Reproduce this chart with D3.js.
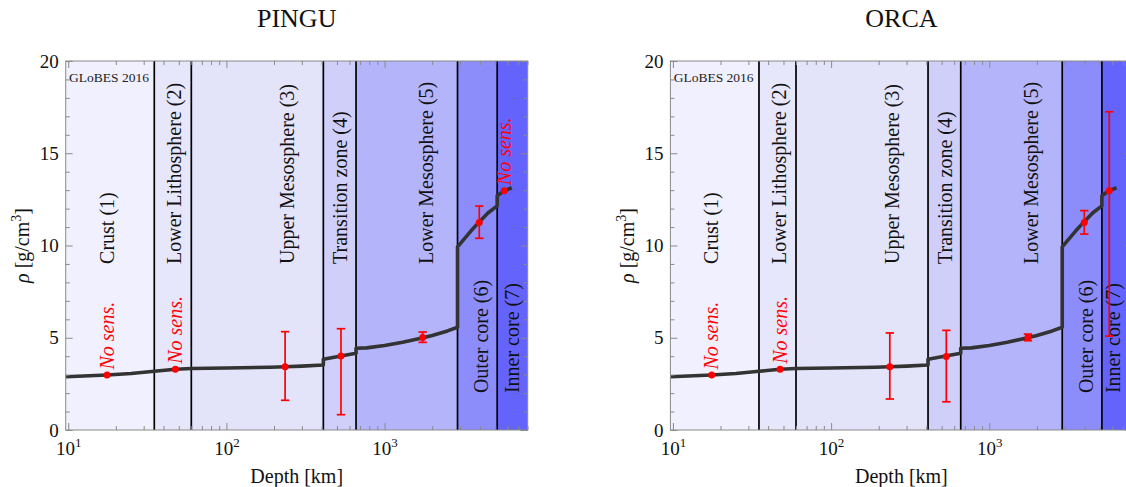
<!DOCTYPE html>
<html><head><meta charset="utf-8">
<script src="https://cdn.jsdelivr.net/npm/d3@7"></script>
<style>body{margin:0;background:#fff}svg{display:block}</style>
</head><body><svg id="chart" width="1126" height="487"></svg>
<script>
// ---------- data ----------
const experiments = ["PINGU", "ORCA"];
const regionNames = ["Crust (1)", "Lower Lithosphere (2)", "Upper Mesosphere (3)", "Transition zone (4)", "Lower Mesosphere (5)", "Outer core (6)", "Inner core (7)"];
const regionBounds = [35, 60, 410, 660, 2891, 5150];
const regionColors = ["#f0f0fe", "#e7e7fc", "#e3e3fa", "#cfcffa", "#b4b4fb", "#8c8cfb", "#6464fd"];
const labelDepth = [17.6, 47.3, 243, 526, 1840, 4100, 6450];
const labelRho = [9, 9, 9, 9, 9, 2, 2];
const depthDomain = [9.64, 8030];
const rhoDomain = [0, 20];

// PREM-like density profile (depth in km, density in g/cm^3)
const profileDepth = [9.64, 17.6, 25, 35, 47.6, 60, 100, 190, 235, 300, 410, 410, 530, 660, 660, 771, 1000, 1300, 1750, 2000, 2500, 2891, 2891, 3500, 3968, 4500, 5150, 5150, 5709, 6371];
const profileRho   = [2.89, 2.98, 3.06, 3.18, 3.29, 3.33, 3.36, 3.40, 3.43, 3.46, 3.52, 3.83, 4.01, 4.16, 4.43, 4.45, 4.58, 4.76, 5.00, 5.12, 5.37, 5.57, 9.93, 10.77, 11.28, 11.76, 12.15, 12.70, 12.97, 13.13];

// measurements per experiment
const pinguDepth = [17.6, 47.6, 235, 530, 1741, 3968, 5709];
const pinguRho   = [2.98, 3.29, 3.43, 4.01, 5.02, 11.25, 12.97];
const pinguLow   = [null, null, 1.61, 0.83, 4.75, 10.39, null];
const pinguHigh  = [null, null, 5.33, 5.49, 5.31, 12.14, null];
const pinguNoSens = [true, true, false, false, false, false, true];

const orcaDepth = [17.6, 47.6, 235, 535, 1756, 3986, 5734];
const orcaRho   = [2.98, 3.29, 3.43, 3.99, 5.02, 11.24, 12.97];
const orcaLow   = [null, null, 1.68, 1.53, 4.84, 10.62, 5.09];
const orcaHigh  = [null, null, 5.26, 5.40, 5.20, 11.89, 17.25];
const orcaNoSens = [true, true, false, false, false, false, false];

const xMajorTicks = [10, 100, 1000];
const xMajorExp = ["1", "2", "3"];
const xMinorTicks = [20,30,40,50,60,70,80,90,200,300,400,500,600,700,800,900,2000,3000,4000,5000,6000,7000,8000];
const yMajorTicks = [0, 5, 10, 15, 20];
const yMinorTicks = [1,2,3,4,6,7,8,9,11,12,13,14,16,17,18,19];

// ---------- drawing ----------
const FONT = "'Liberation Serif', 'DejaVu Serif', serif";
const W = 1126;
const svg = d3.select("#chart").style("font-family", FONT);

function drawPanel(ox, title, mDepth, mRho, mLow, mHigh, noSens) {
  const g = svg.append("g").attr("transform", `translate(${ox},0)`);
  const x = d3.scaleLog().domain(depthDomain).range([65.7, 527.7]);
  const y = d3.scaleLinear().domain(rhoDomain).range([430, 61]);
  const edges = [depthDomain[0], ...regionBounds, depthDomain[1]];

  // bands
  g.selectAll("rect.band").data(regionNames).join("rect").attr("class", "band")
    .attr("x", (d, i) => x(edges[i]))
    .attr("width", (d, i) => x(edges[i + 1]) - x(edges[i]))
    .attr("y", y(rhoDomain[1])).attr("height", y(rhoDomain[0]) - y(rhoDomain[1]))
    .attr("fill", (d, i) => regionColors[i]);

  // region labels (kept inside the picture)
  g.selectAll("text.region").data(regionNames).join("text").attr("class", "region")
    .attr("transform", (d, i) => `translate(${Math.min(x(labelDepth[i]) + 6.5, W - 6 - ox)},${y(labelRho[i])}) rotate(-90)`)
    .attr("font-size", 20).attr("fill", "#111").text(d => d);

  // boundary lines
  g.selectAll("line.bound").data(regionBounds).join("line").attr("class", "bound")
    .attr("x1", d => x(d)).attr("x2", d => x(d))
    .attr("y1", y(rhoDomain[1])).attr("y2", y(rhoDomain[0]))
    .attr("stroke", "#000").attr("stroke-width", 1.7);

  // density profile
  const prof = profileDepth.map((d, i) => [d, profileRho[i]]);
  g.append("path").datum(prof)
    .attr("d", d3.line().x(d => x(d[0])).y(d => y(d[1])))
    .attr("fill", "none").attr("stroke", "#333").attr("stroke-width", 3.6)
    .attr("stroke-linejoin", "round");

  // error bars
  const meas = mDepth.map((d, i) => ({d, r: mRho[i], lo: mLow[i], hi: mHigh[i], ns: noSens[i]}));
  const eb = meas.filter(m => m.lo !== null);
  const cap = 4.2;
  g.selectAll("line.err").data(eb).join("line").attr("class", "err")
    .attr("x1", m => x(m.d)).attr("x2", m => x(m.d))
    .attr("y1", m => y(m.lo)).attr("y2", m => y(m.hi))
    .attr("stroke", "#ff0000").attr("stroke-width", 1.7);
  ["lo", "hi"].forEach(k => {
    g.selectAll("line.cap" + k).data(eb).join("line").attr("class", "cap" + k)
      .attr("x1", m => x(m.d) - cap).attr("x2", m => x(m.d) + cap)
      .attr("y1", m => y(m[k])).attr("y2", m => y(m[k]))
      .attr("stroke", "#ff0000").attr("stroke-width", 1.7);
  });
  g.selectAll("circle.dot").data(meas).join("circle").attr("class", "dot")
    .attr("cx", m => x(m.d)).attr("cy", m => y(m.r)).attr("r", 3.5)
    .attr("fill", "#ff0000");

  // "No sens." labels
  g.selectAll("text.ns").data(meas.filter(m => m.ns)).join("text").attr("class", "ns")
    .attr("transform", m => `translate(${x(m.d) + 6.5},${y(m.r) - 5.5}) rotate(-90)`)
    .attr("font-size", 20).attr("font-style", "italic").attr("fill", "#ff0000")
    .text("No sens.");

  // GLoBES mark
  g.append("text").attr("x", 69).attr("y", 81.5).attr("font-size", 13.5)
    .attr("fill", "#222").text("GLoBES 2016");

  // frame
  g.append("rect").attr("x", 65.7).attr("y", 61).attr("width", 462).attr("height", 369)
    .attr("fill", "none").attr("stroke", "#8a8a8a").attr("stroke-width", 1);

  const styleAxis = sel => {
    sel.select(".domain").remove();
    sel.selectAll(".tick line").attr("stroke", "#8a8a8a");
  };
  // bottom axis
  const bx = g.append("g").attr("transform", `translate(0,${y(0)})`)
    .call(d3.axisBottom(x).tickValues(xMajorTicks).tickSizeInner(-7).tickSizeOuter(0).tickFormat(() => ""))
    .call(styleAxis);
  bx.selectAll(".tick text").attr("y", 25).attr("dy", null).attr("font-size", 19)
    .attr("font-family", FONT).attr("fill", "#111")
    .each(function (d, i) {
      const t = d3.select(this);
      t.append("tspan").text("10");
      t.append("tspan").attr("dy", -8).attr("font-size", 13).text(xMajorExp[i]);
    });
  g.append("g").attr("transform", `translate(0,${y(0)})`)
    .call(d3.axisBottom(x).tickValues(xMinorTicks).tickSizeInner(-4).tickSizeOuter(0).tickFormat(() => ""))
    .call(styleAxis);
  // top axis
  g.append("g").attr("transform", `translate(0,${y(20)})`)
    .call(d3.axisTop(x).tickValues(xMajorTicks).tickSizeInner(-7).tickSizeOuter(0).tickFormat(() => ""))
    .call(styleAxis);
  g.append("g").attr("transform", `translate(0,${y(20)})`)
    .call(d3.axisTop(x).tickValues(xMinorTicks).tickSizeInner(-4).tickSizeOuter(0).tickFormat(() => ""))
    .call(styleAxis);
  // left axis
  const ly = g.append("g").attr("transform", `translate(65.7,0)`)
    .call(d3.axisLeft(y).tickValues(yMajorTicks).tickSizeInner(-7).tickSizeOuter(0).tickPadding(7))
    .call(styleAxis);
  ly.selectAll(".tick text").attr("font-size", 19).attr("font-family", FONT).attr("fill", "#111");
  g.append("g").attr("transform", `translate(65.7,0)`)
    .call(d3.axisLeft(y).tickValues(yMinorTicks).tickSizeInner(-4).tickSizeOuter(0).tickFormat(() => ""))
    .call(styleAxis);
  // right axis
  g.append("g").attr("transform", `translate(527.7,0)`)
    .call(d3.axisRight(y).tickValues(yMajorTicks).tickSizeInner(-7).tickSizeOuter(0).tickFormat(() => ""))
    .call(styleAxis);
  g.append("g").attr("transform", `translate(527.7,0)`)
    .call(d3.axisRight(y).tickValues(yMinorTicks).tickSizeInner(-4).tickSizeOuter(0).tickFormat(() => ""))
    .call(styleAxis);

  // axis titles
  g.append("text").attr("x", 296.7).attr("y", 483).attr("text-anchor", "middle")
    .attr("font-size", 20).attr("fill", "#111").text("Depth [km]");
  const yl = g.append("text").attr("transform", `translate(29,${(y(0) + y(20)) / 2}) rotate(-90)`)
    .attr("text-anchor", "middle").attr("font-size", 20).attr("fill", "#111");
  yl.append("tspan").attr("font-style", "italic").text("ρ");
  yl.append("tspan").text(" [g/cm");
  yl.append("tspan").attr("dy", -8).attr("font-size", 14).text("3");
  yl.append("tspan").attr("dy", 8).text("]");

  // title
  g.append("text").attr("x", 296.7).attr("y", 26.5).attr("text-anchor", "middle")
    .attr("font-size", 26).attr("fill", "#111").text(title);
}

drawPanel(0, experiments[0], pinguDepth, pinguRho, pinguLow, pinguHigh, pinguNoSens);
drawPanel(604.7, experiments[1], orcaDepth, orcaRho, orcaLow, orcaHigh, orcaNoSens);
</script></body></html>
